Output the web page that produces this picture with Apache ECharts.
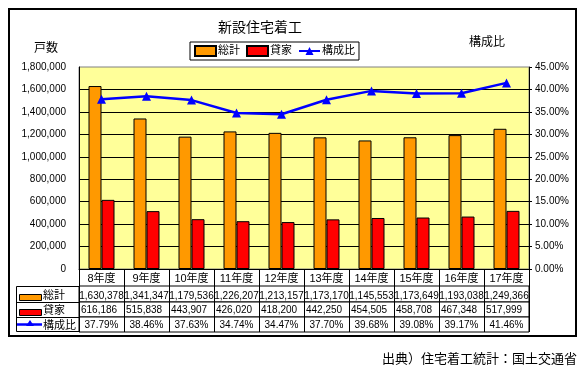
<!DOCTYPE html>
<html>
<head>
<meta charset="utf-8">
<script src="https://cdn.jsdelivr.net/npm/echarts@6/dist/echarts.min.js"></script>
<style>html,body{margin:0;padding:0;background:#fff}#c{width:586px;height:367px}</style>
</head>
<body>
<div id="c"></div>
<script>
var categories = ['8年度','9年度','10年度','11年度','12年度','13年度','14年度','15年度','16年度','17年度'];
var totalStarts = [1630378,1341347,1179536,1226207,1213157,1173170,1145553,1173649,1193038,1249366];
var rentalStarts = [616186,515838,443907,426020,418200,442250,454505,458708,467348,517999];
var rentalRatio = [37.79,38.46,37.63,34.74,34.47,37.70,39.68,39.08,39.17,41.46];
var seriesNames = ['総計','貸家','構成比'];

var FONT = "'Liberation Sans', 'Noto Sans CJK JP', sans-serif";
function fmt(n){ return String(n).replace(/\B(?=(\d{3})+(?!\d))/g, ','); }
function pct(v){ return v.toFixed(2) + '%'; }

var chart = echarts.init(document.getElementById('c'), null, {renderer:'canvas'});

var L = 79, R = 57;
function tableGrid(top, h){
  return {left:L, right:R, top:top, height:h, show:true, backgroundColor:'#fff',
          borderColor:'#000', borderWidth:1, outerBoundsMode:'none', containLabel:false};
}
function tableAxis(idx, data, margin, rich){
  var lab = {show:true, inside:true, interval:0, margin:margin, verticalAlign:'middle',
             color:'#000', fontSize:10, fontFamily:FONT};
  if (rich) {
    lab.formatter = function(v){ return '{a|' + v + '}'; };
    lab.rich = {a:{width:41, align:'left', fontSize:10, fontFamily:FONT, color:'#000'}};
  }
  return {type:'category', gridIndex:idx, data:data, boundaryGap:true, position:'bottom',
          axisLine:{show:false}, axisTick:{show:false},
          splitLine:{show:true, interval:0, lineStyle:{color:'#000', width:1}},
          axisLabel:lab};
}
function hiddenY(idx){
  return {type:'value', gridIndex:idx, show:false, min:0, max:1,
          axisLine:{show:false}, splitLine:{show:false}, axisLabel:{show:false}, axisTick:{show:false}};
}

var option = {
  animation:false,
  backgroundColor:'#fff',
  textStyle:{fontFamily:FONT},
  legend:{
    left:190, top:42, orient:'horizontal',
    borderColor:'#000', borderWidth:1, padding:[3,4], itemGap:6,
    itemWidth:21, itemHeight:10,
    textStyle:{fontSize:11, color:'#000', fontFamily:FONT, padding:[0,0,0,-3]},
    data:[{name:seriesNames[0], icon:'rect'},{name:seriesNames[1], icon:'rect'},{name:seriesNames[2]}]
  },
  grid:[
    {left:L, right:R, top:67, bottom:98, show:true, backgroundColor:'#FFFF99',
     borderColor:'#808080', borderWidth:1, outerBoundsMode:'none', containLabel:false},
    tableGrid(286,16),
    tableGrid(302,15),
    tableGrid(317,15)
  ],
  xAxis:[
    {type:'category', gridIndex:0, data:categories, boundaryGap:true,
     axisLine:{show:true, lineStyle:{color:'#000', width:1}},
     axisTick:{show:true, interval:0, length:17, lineStyle:{color:'#000'}},
     axisLabel:{interval:0, margin:4, color:'#000', fontSize:11, fontFamily:FONT},
     splitLine:{show:false}},
    tableAxis(1, totalStarts.map(fmt), 6, false),
    tableAxis(2, rentalStarts.map(fmt), 7, true),
    tableAxis(3, rentalRatio.map(pct), 7, false)
  ],
  yAxis:[
    {type:'value', gridIndex:0, min:0, max:1800000, interval:200000, position:'left',
     axisLine:{show:true, lineStyle:{color:'#000'}},
     axisTick:{show:false},
     axisLabel:{margin:13, color:'#000', fontSize:10, fontFamily:FONT, formatter:function(v){return fmt(v);}},
     splitLine:{show:true, showMaxLine:false, showMinLine:false, lineStyle:{color:'#000', width:1}}},
    {type:'value', gridIndex:0, min:0, max:45, interval:5, position:'right',
     axisLine:{show:true, lineStyle:{color:'#000'}},
     axisTick:{show:true, length:3, lineStyle:{color:'#000'}},
     axisLabel:{margin:6, color:'#000', fontSize:10, fontFamily:FONT, formatter:function(v){return v.toFixed(2)+'%';}},
     splitLine:{show:false}},
    hiddenY(1), hiddenY(2), hiddenY(3)
  ],
  series:[
    {name:seriesNames[0], type:'bar', xAxisIndex:0, yAxisIndex:0, data:totalStarts,
     barWidth:13, barGap:'0%', itemStyle:{color:'#FF9900', borderColor:'#000', borderWidth:1}},
    {name:seriesNames[1], type:'bar', xAxisIndex:0, yAxisIndex:0, data:rentalStarts,
     barWidth:13, barGap:'0%', itemStyle:{color:'#FF0000', borderColor:'#000', borderWidth:1}},
    {name:seriesNames[2], type:'line', xAxisIndex:0, yAxisIndex:1, data:rentalRatio,
     symbol:'triangle', symbolSize:9, lineStyle:{color:'#0000FF', width:2.5},
     itemStyle:{color:'#0000FF'}}
  ],
  graphic:[
    {type:'rect', shape:{x:9, y:9, width:567, height:327}, style:{fill:null, stroke:'#000', lineWidth:2}, silent:true, z:-1},
    {type:'text', x:260, y:27, style:{text:'新設住宅着工', font:'14px "Noto Sans CJK JP"', fill:'#000', align:'center', verticalAlign:'middle'}},
    {type:'text', x:46, y:47, style:{text:'戸数', font:'12px "Noto Sans CJK JP"', fill:'#000', align:'center', verticalAlign:'middle'}},
    {type:'text', x:487, y:41, style:{text:'構成比', font:'12px "Noto Sans CJK JP"', fill:'#000', align:'center', verticalAlign:'middle'}},
    {type:'text', x:577, y:358, style:{text:'出典）住宅着工統計：国土交通省', font:'13px "Noto Sans CJK JP"', fill:'#000', align:'right', verticalAlign:'middle'}},
    {type:'rect', shape:{x:16.5, y:286.5, width:62.5, height:45}, style:{fill:'#fff', stroke:'#000', lineWidth:1}},
    {type:'line', shape:{x1:16.5, y1:302.5, x2:79, y2:302.5}, style:{stroke:'#000', lineWidth:1}},
    {type:'line', shape:{x1:16.5, y1:317.5, x2:79, y2:317.5}, style:{stroke:'#000', lineWidth:1}},
    {type:'rect', shape:{x:19.5, y:294.5, width:22, height:6}, style:{fill:'#FF9900', stroke:'#000', lineWidth:1}},
    {type:'rect', shape:{x:19.5, y:309.5, width:22, height:6}, style:{fill:'#FF0000', stroke:'#000', lineWidth:1}},
    {type:'line', shape:{x1:17, y1:324.5, x2:42, y2:324.5}, style:{stroke:'#0000FF', lineWidth:2.5}},
    {type:'polygon', shape:{points:[[30,320],[26,326],[34,326]]}, style:{fill:'#0000FF'}},
    {type:'text', x:43, y:295, style:{text:seriesNames[0], font:'11px "Noto Sans CJK JP"', fill:'#000', verticalAlign:'middle'}},
    {type:'text', x:43, y:310, style:{text:seriesNames[1], font:'11px "Noto Sans CJK JP"', fill:'#000', verticalAlign:'middle'}},
    {type:'text', x:43, y:325, style:{text:seriesNames[2], font:'11px "Noto Sans CJK JP"', fill:'#000', verticalAlign:'middle'}}
  ]
};
chart.setOption(option);
</script>
</body>
</html>
